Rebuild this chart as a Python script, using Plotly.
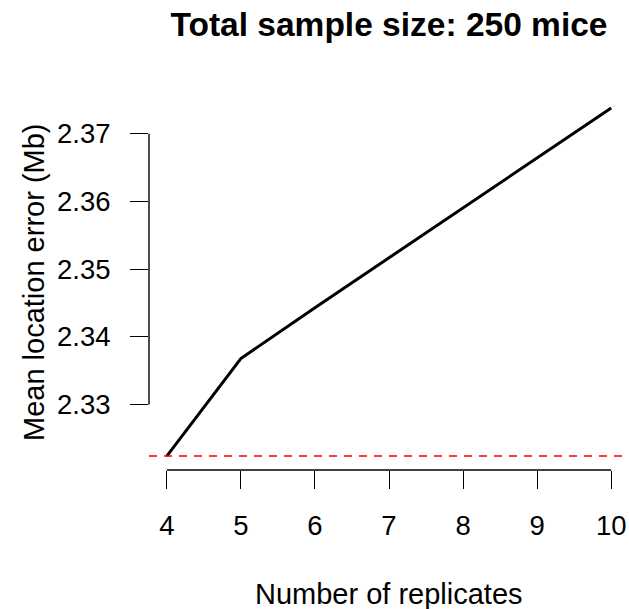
import plotly.graph_objects as go

# Mean location error by number of replicates (total of 250 mice)
replicates = [4, 5, 6, 7, 8, 9, 10]
mean_error = [2.3224, 2.3368, 2.3443, 2.3517, 2.3591, 2.3665, 2.3738]
reference_error = 2.3224

x_ticks = [4, 5, 6, 7, 8, 9, 10]
y_ticks = [2.33, 2.34, 2.35, 2.36, 2.37]
y_tick_text = ["2.33", "2.34", "2.35", "2.36", "2.37"]

title_text = "Total sample size: 250 mice"
x_title = "Number of replicates"
y_title = "Mean location error (Mb)"

FONT = "Liberation Sans, Arial, Helvetica, sans-serif"
W, H = 629, 609
M_L, M_R, M_T, M_B = 149, 0, 94, 139


def padded(lo, hi, frac=0.04):
    d = (hi - lo) * frac
    return [lo - d, hi + d]


x_range = padded(min(replicates), max(replicates))
y_range = padded(min(mean_error + [reference_error]), max(mean_error + [reference_error]))

fig = go.Figure()
fig.add_trace(go.Scatter(
    x=replicates, y=mean_error, mode="lines",
    line=dict(color="black", width=3),
    hoverinfo="skip", showlegend=False,
))

# Horizontal reference level across the whole panel
fig.add_shape(type="line", xref="paper", yref="y",
              x0=0, x1=1, y0=reference_error, y1=reference_error,
              line=dict(color="#ff0000", width=1.4, dash="8px,7px"))

# Axis lines spanning only the first to last tick
fig.add_shape(type="line", xref="x", yref="paper",
              x0=x_ticks[0], x1=x_ticks[-1], y0=0, y1=0,
              line=dict(color="black", width=1.4))
fig.add_shape(type="line", xref="paper", yref="y",
              x0=0, x1=0, y0=y_ticks[0], y1=y_ticks[-1],
              line=dict(color="black", width=1.4))

plot_h = H - M_T - M_B


def px_to_paper_y(py):
    return (H - M_B - py) / plot_h


def px_to_paper_x(px):
    return (px - M_L) / (W - M_L - M_R)


fig.add_annotation(text=x_title, xref="paper", yref="paper",
                   x=0.5, y=px_to_paper_y(594), xanchor="center", yanchor="middle",
                   showarrow=False, font=dict(family=FONT, size=29, color="black"))
fig.add_annotation(text=y_title, xref="paper", yref="paper",
                   x=px_to_paper_x(34), y=0.5, xanchor="center", yanchor="middle",
                   textangle=-90, showarrow=False,
                   font=dict(family=FONT, size=29, color="black"))

fig.update_layout(
    width=W, height=H,
    margin=dict(l=M_L, r=M_R, t=M_T, b=M_B, pad=0),
    paper_bgcolor="white", plot_bgcolor="white",
    title=dict(text=f"<b>{title_text}</b>", x=(M_L + W) / 2 / W, xanchor="center",
               y=1 - 24 / H, yanchor="middle",
               font=dict(family=FONT, size=33.5, color="black")),
    xaxis=dict(range=x_range, tickvals=x_ticks, ticks="outside", ticklen=18,
               tickwidth=1.4, tickcolor="black", showline=False, showgrid=False,
               zeroline=False, ticklabelstandoff=13,
               tickfont=dict(family=FONT, size=27.5, color="black")),
    yaxis=dict(range=y_range, tickvals=y_ticks, ticktext=y_tick_text,
               ticks="outside", ticklen=18, tickwidth=1.4, tickcolor="black",
               showline=False, showgrid=False, zeroline=False,
               ticklabelstandoff=14,
               tickfont=dict(family=FONT, size=27.5, color="black")),
    showlegend=False,
)

fig.write_html("out.html")
